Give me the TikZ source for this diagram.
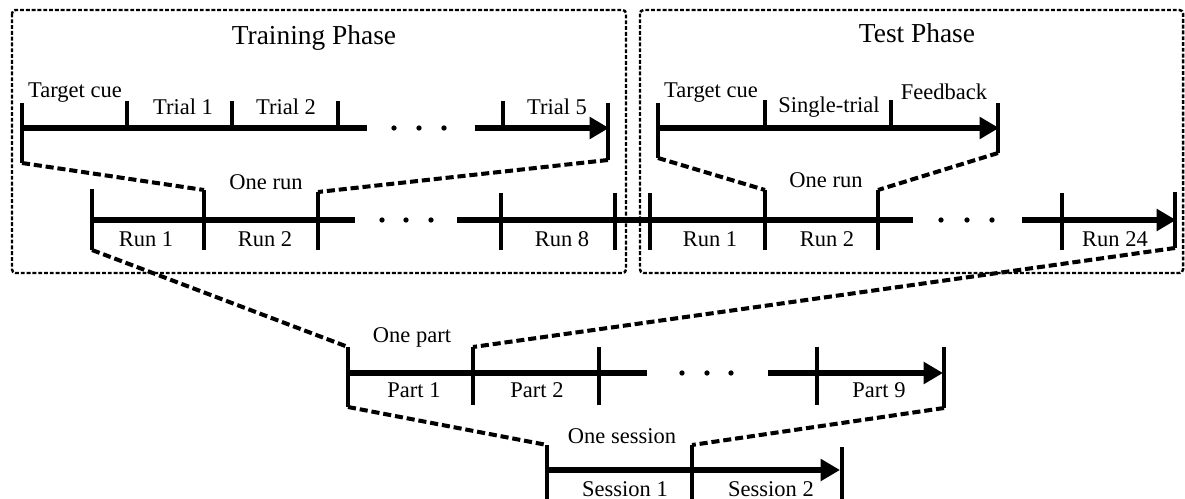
\documentclass[tikz,border=0pt]{standalone}
\usepackage{fontspec}
\setmainfont{Liberation Serif}
\usetikzlibrary{arrows.meta,positioning}
\tikzset{
    phase/.style={
    rounded corners=2pt,draw=black,line width=1.4pt,dash pattern=on 2.2pt off 1.1pt
    },
    axis/.style={
    line width=3.4pt
    },
    arrowaxis/.style={
    line width=3.4pt,-{Triangle[length=11pt,width=12pt]}
    },
    tick/.style={
    line width=2.8pt
    },
    zoomline/.style={
    line width=2.3pt,dash pattern=on 4.6pt off 2.2pt
    },
    label/.style={
    anchor=base,inner sep=0pt,font=\fontsize{12.8}{14}\selectfont
    },
    title/.style={
    anchor=base,inner sep=0pt,font=\fontsize{15.6}{18}\selectfont
    },
}

\begin{document}
\begin{tikzpicture}[x=0.02cm,y=-0.02cm]
  \useasboundingbox (0,0) rectangle (1185,499);

  % phases
  \draw[phase] (12,10) rectangle (626,273);
  \draw[phase] (640,10) rectangle (1183,273);
  \node[title] (trainT) at (314,45) {Training Phase};
  \node[title] (testT) at (917,43) {Test Phase};

  % training: one run
  \draw[axis] (22,128) -- (367,128);
  \draw[arrowaxis] (475,128) -- (609,128);
  \draw[tick] (22,103) -- (22,163) coordinate (trA);
  \draw[tick] (608,103) -- (608,160) coordinate (trB);
  \foreach \x in {127,232,338,503}
    \draw[tick] (\x,101) -- (\x,128);
  \foreach \x in {394,419,444}
    \fill (\x,128) circle (1.5pt);
  \node[label] (trCue) at (75,98) {Target cue};
  \node[label] (trT1) at (183,115) {Trial 1};
  \node[label] (trT2) at (286,115) {Trial 2};
  \node[label] (trT5) at (557,115) {Trial 5};

  % test: one run
  \draw[arrowaxis] (658,128) -- (999,128);
  \draw[tick] (658,103) -- (658,158) coordinate (tsA);
  \draw[tick] (998,103) -- (998,153) coordinate (tsB);
  \foreach \x in {765,891}
    \draw[tick] (\x,100) -- (\x,128);
  \node[label] (tsCue) at (711,98) {Target cue};
  \node[label] (tsSingle) at (829,113) {Single-trial};
  \node[label] (tsFb) at (944,100) {Feedback};

  % runs of both phases
  \draw[axis] (92,220) -- (355,220);
  \draw[axis] (457,220) -- (913,220);
  \draw[arrowaxis] (1022,220) -- (1176,220);
  \draw[tick] (92,189) -- (92,250) coordinate (runA);
  \draw[tick] (1175,192) -- (1175,248) coordinate (runB);
  \draw[tick] (204,190) coordinate (rnA) -- (204,250);
  \draw[tick] (318,192) coordinate (rnB) -- (318,250);
  \draw[tick] (765,190) coordinate (snA) -- (765,250);
  \draw[tick] (878,190) coordinate (snB) -- (878,250);
  \foreach \x in {501,615,650,1062}
    \draw[tick] (\x,193) -- (\x,250);
  \foreach \x in {382,406,431,941,967,992}
    \fill (\x,220) circle (1.5pt);
  \node[label] (trOne) at (266,190) {One run};
  \node[label] (tsOne) at (826,188) {One run};
  \node[label] (trR1) at (146,247) {Run 1};
  \node[label] (trR2) at (265,247) {Run 2};
  \node[label] (trR8) at (562,247) {Run 8};
  \node[label] (tsR1) at (710,247) {Run 1};
  \node[label] (tsR2) at (827,247) {Run 2};
  \node[label] (tsR24) at (1115,247) {Run 24};

  % parts
  \draw[axis] (348,373) -- (647,373);
  \draw[arrowaxis] (768,373) -- (943,373);
  \draw[tick] (348,347) coordinate (ptA) -- (348,407) coordinate (ptC);
  \draw[tick] (944,347) -- (944,408) coordinate (ptD);
  \draw[tick] (473,347) coordinate (ptB) -- (473,405);
  \foreach \x in {599,817}
    \draw[tick] (\x,347) -- (\x,405);
  \foreach \x in {682,707,731}
    \fill (\x,373) circle (1.5pt);
  \node[label] (pOne) at (412,342) {One part};
  \node[label] (p1) at (414,398) {Part 1};
  \node[label] (p2) at (537,398) {Part 2};
  \node[label] (p9) at (879,398) {Part 9};

  % sessions
  \draw[arrowaxis] (547,470) -- (840,470);
  \draw[tick] (547,445) coordinate (seA) -- (547,510);
  \draw[tick] (692,445) coordinate (seB) -- (692,510);
  \draw[tick] (842,447) -- (842,510);
  \node[label] (sOne) at (622,443) {One session};
  \node[label] (s1) at (625,496) {Session 1};
  \node[label] (s2) at (771,496) {Session 2};

  % zoom lines
  \draw[zoomline] (trA) -- (rnA);
  \draw[zoomline] (trB) -- (rnB);
  \draw[zoomline] (tsA) -- (snA);
  \draw[zoomline] (tsB) -- (snB);
  \draw[zoomline] (runA) -- (ptA);
  \draw[zoomline] (runB) -- (ptB);
  \draw[zoomline] (ptC) -- (seA);
  \draw[zoomline] (ptD) -- (seB);

\end{tikzpicture}
\end{document}
